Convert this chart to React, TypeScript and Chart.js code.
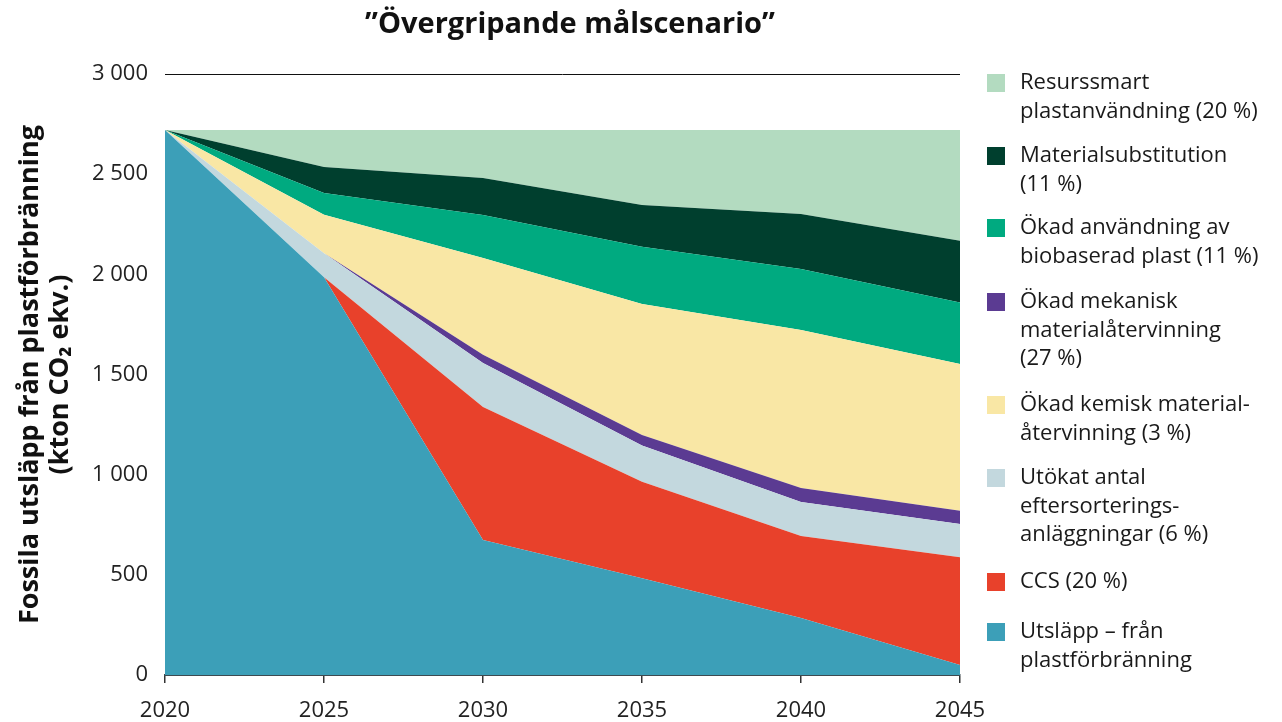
import React, { useEffect, useRef } from "react";
import { Chart, registerables } from "chart.js";

Chart.register(...registerables);

// ---- Data ----
const years = ["2020", "2025", "2030", "2035", "2040", "2045"];
const utslapp = [2720, 1985, 674, 483, 285, 50];
const ccs = [0, 0, 664, 482, 409, 538];
const utokat = [0, 120, 220, 180, 170, 166];
const mekanisk = [0, 0, 40, 53, 69, 66];
const kemisk = [0, 192, 484, 654, 789, 733];
const biobaserad = [0, 109, 214, 286, 305, 306];
const materialsubstitution = [0, 130, 185, 208, 274, 309];
const resurssmart = [0, 184, 239, 374, 419, 552];

const chartTitle = "\u201DÖvergripande målscenario\u201D";
const yTitle = ["Fossila utsläpp från plastförbränning", "(kton CO\u2082 ekv.)"];

// legend labels, split into lines
const legendResurssmart = ["Resurssmart", "plastanvändning (20 %)"];
const legendMaterial = ["Materialsubstitution", "(11 %)"];
const legendBio = ["Ökad användning av", "biobaserad plast (11 %)"];
const legendMek = ["Ökad mekanisk", "materialåtervinning", "(27 %)"];
const legendKem = ["Ökad kemisk material-", "återvinning (3 %)"];
const legendUtokat = ["Utökat antal", "eftersorterings-", "anläggningar (6 %)"];
const legendCcs = ["CCS (20 %)"];
const legendUtslapp = ["Utsläpp – från", "plastförbränning"];

// ---- Styles ----
const FONT = "'Open Sans', 'Noto Sans', sans-serif";
const COLORS = {
  utslapp: "#3c9fb8",
  ccs: "#e8412b",
  utokat: "#c3d8de",
  mekanisk: "#5b3b92",
  kemisk: "#f9e7a5",
  bio: "#00aa80",
  material: "#003f2e",
  resurs: "#b3dbc0",
};

// stacking order: bottom to top
const seriesDefs = [
  { key: "utslapp", data: utslapp, color: COLORS.utslapp, legend: legendUtslapp },
  { key: "ccs", data: ccs, color: COLORS.ccs, legend: legendCcs },
  { key: "utokat", data: utokat, color: COLORS.utokat, legend: legendUtokat },
  { key: "mekanisk", data: mekanisk, color: COLORS.mekanisk, legend: legendMek },
  { key: "kemisk", data: kemisk, color: COLORS.kemisk, legend: legendKem },
  { key: "bio", data: biobaserad, color: COLORS.bio, legend: legendBio },
  { key: "material", data: materialsubstitution, color: COLORS.material, legend: legendMaterial },
  { key: "resurs", data: resurssmart, color: COLORS.resurs, legend: legendResurssmart },
];

// legend order (top to bottom) and the vertical centre of each item's first line
const legendOrder = ["resurs", "material", "bio", "mekanisk", "kemisk", "utokat", "ccs", "utslapp"];
const legendItemY = [83, 156, 228, 302, 405, 478, 582, 632];
const LEGEND_LINE_H = 28.6;

const fmtTick = (v: number) => {
  if (v >= 1000) {
    const th = Math.floor(v / 1000);
    const rest = String(v % 1000).padStart(3, "0");
    return `${th} ${rest}`;
  }
  return String(v);
};

const decorPlugin = {
  id: "decor",
  afterDraw(chart: any) {
    const ctx = chart.ctx as CanvasRenderingContext2D;
    ctx.save();
    // Title
    ctx.fillStyle = "#111";
    ctx.font = `bold 29px ${FONT}`;
    ctx.textAlign = "center";
    ctx.textBaseline = "middle";
    ctx.fillText(chartTitle, 570, 25);

    // Legend
    ctx.font = `22px ${FONT}`;
    ctx.textAlign = "left";
    ctx.textBaseline = "middle";
    legendOrder.forEach((key, idx) => {
      const it = seriesDefs.find((s) => s.key === key)!;
      const y = legendItemY[idx];
      ctx.fillStyle = it.color;
      ctx.fillRect(987, y - 9, 18, 18);
      ctx.fillStyle = "#1a1a1a";
      it.legend.forEach((line, i) => {
        ctx.fillText(line, 1020, y + i * LEGEND_LINE_H);
      });
    });
    ctx.restore();
  },
};

export default function App() {
  const canvasRef = useRef<HTMLCanvasElement | null>(null);

  useEffect(() => {
    document.body.style.margin = "0";
    const canvas = canvasRef.current;
    if (!canvas) return;
    const chart = new Chart(canvas, {
      type: "line",
      data: {
        labels: years,
        datasets: seriesDefs.map((s, i) => ({
          label: s.legend.join(" "),
          data: s.data,
          backgroundColor: s.color,
          borderColor: s.color,
          borderWidth: 0,
          pointRadius: 0,
          pointHoverRadius: 0,
          tension: 0,
          fill: i === 0 ? "origin" : "-1",
        })),
      },
      options: {
        responsive: false,
        animation: false,
        layout: { padding: { top: 74, right: 322, left: 0, bottom: 0 } },
        plugins: {
          legend: { display: false },
          title: { display: false },
          tooltip: { enabled: false },
        },
        scales: {
          x: {
            type: "category",
            offset: false,
            afterFit: (scale: any) => {
              scale.height = 47;
            },
            border: { display: true, color: "#3d4a50", width: 2 },
            grid: {
              drawOnChartArea: false,
              drawTicks: true,
              tickLength: 8,
              color: "#333",
              lineWidth: 1.5,
            },
            ticks: {
              color: "#222",
              font: { family: FONT, size: 22 },
              padding: 15,
              maxRotation: 0,
            },
          },
          y: {
            stacked: true,
            min: 0,
            max: 3000,
            afterFit: (scale: any) => {
              scale.width = 165;
            },
            border: { display: false },
            grid: {
              drawTicks: false,
              color: (c: any) => (c.tick && c.tick.value === 3000 ? "#111" : "rgba(0,0,0,0)"),
              lineWidth: 1,
            },
            ticks: {
              stepSize: 500,
              color: "#222",
              font: { family: FONT, size: 22 },
              padding: 17,
              callback: (v: any) => fmtTick(Number(v)),
            },
            title: {
              display: true,
              text: yTitle,
              color: "#111",
              font: { family: FONT, size: 27, weight: "bold", lineHeight: 1.11 },
              padding: { top: 15, bottom: 0 },
            },
          },
        },
      },
      plugins: [decorPlugin],
    });
    return () => chart.destroy();
  }, []);

  return (
    <div style={{ position: "absolute", left: 0, top: 0, width: 1282, height: 722 }}>
      <canvas ref={canvasRef} width={1282} height={722} />
    </div>
  );
}
